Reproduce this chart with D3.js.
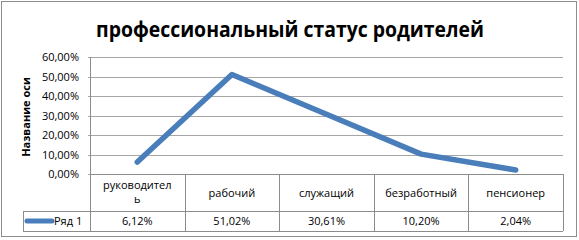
<!DOCTYPE html>
<html>
<head>
<meta charset="utf-8">
<script src="https://cdn.jsdelivr.net/npm/d3@7"></script>
<style>
  body { margin: 0; background: #fff; }
  text { font-family: "Open Sans", "Noto Sans", sans-serif; fill: #000; }
</style>
</head>
<body>
<svg id="chart" width="579" height="240"></svg>
<script>
// data
var categories = ["руководитель", "рабочий", "служащий", "безработный", "пенсионер"]
var values = [6.12, 51.02, 30.61, 10.20, 2.04]
var yTicks = [0, 10, 20, 30, 40, 50, 60]
var seriesName = "Ряд 1"
var title = "профессиональный статус родителей"
var axisTitle = "Название оси"

var svg = d3.select('#chart')
var width = +svg.attr('width')
var height = +svg.attr('height')
var margin = { left: 90, right: 16, top: 57, plotBottom: 174 }
var rowH = 37, valH = 20
var blue = '#4a7ebb', grid = '#a6a6a6', border = '#8c8c8c'

var ru = d3.formatLocale({ decimal: ',', thousands: ' ', grouping: [3], currency: ['', ''] })
var pct = ru.format('.2f')

// outer frame
svg.append('rect').attr('x', 1.5).attr('y', 1.5).attr('width', width - 4).attr('height', height - 5)
  .attr('fill', '#fff').attr('stroke', border).attr('stroke-width', 1)

svg.append('text').text(title)
  .attr('x', 290).attr('y', 37).attr('text-anchor', 'middle')
  .attr('font-size', 22).attr('font-weight', 'bold')
  .attr('textLength', 388).attr('lengthAdjust', 'spacingAndGlyphs')

var x = d3.scaleBand().domain(categories).range([margin.left, width - margin.right])
var y = d3.scaleLinear().domain([0, 60]).range([margin.plotBottom, margin.top])

// grid + y axis
var yAxis = d3.axisLeft(y).tickValues(yTicks).tickSize(-(width - margin.right - margin.left) - 2)
  .tickFormat(function (d) { return pct(d) + '%' })
var gy = svg.append('g').attr('transform', 'translate(' + (margin.left - 2) + ',0)').call(yAxis)
gy.select('.domain').remove()
gy.selectAll('.tick line').attr('stroke', grid).attr('shape-rendering', 'crispEdges')
gy.selectAll('.tick text').attr('font-size', 11).attr('x', -9).attr('dy', '0.32em')
  .attr('font-family', '"Open Sans", sans-serif').attr('fill', '#000')

svg.append('line').attr('x1', margin.left + 0.5).attr('x2', margin.left + 0.5)
  .attr('y1', margin.top).attr('y2', margin.plotBottom + rowH + valH)
  .attr('stroke', border).attr('shape-rendering', 'crispEdges')

svg.append('text').text(axisTitle)
  .attr('transform', 'translate(30,117) rotate(-90)').attr('text-anchor', 'middle')
  .attr('font-size', 11).attr('font-weight', 'bold')

// line
var line = d3.line().x(function (d, i) { return x(categories[i]) + x.bandwidth() / 2 }).y(function (d) { return y(d) })
svg.append('path').datum(values).attr('d', line)
  .attr('fill', 'none').attr('stroke', blue).attr('stroke-width', 5.5)
  .attr('stroke-linejoin', 'round').attr('stroke-linecap', 'round')

// data table
var tTop = margin.plotBottom, tMid = tTop + rowH, tBot = tMid + valH
var tb = svg.append('g').attr('stroke', border).attr('shape-rendering', 'crispEdges')
tb.append('line').attr('x1', margin.left).attr('x2', width - margin.right).attr('y1', tTop + 0.5).attr('y2', tTop + 0.5)
tb.append('line').attr('x1', 23).attr('x2', width - margin.right).attr('y1', tMid + 0.5).attr('y2', tMid + 0.5)
tb.append('line').attr('x1', 23).attr('x2', width - margin.right).attr('y1', tBot + 0.5).attr('y2', tBot + 0.5)
tb.append('line').attr('x1', 23.5).attr('x2', 23.5).attr('y1', tMid).attr('y2', tBot)
tb.selectAll('line.v').data(categories).enter().append('line').attr('class', 'v')
  .attr('x1', function (d) { return Math.round(x(d) + x.bandwidth()) + 0.5 })
  .attr('x2', function (d) { return Math.round(x(d) + x.bandwidth()) + 0.5 })
  .attr('y1', tTop).attr('y2', tBot)

var cats = svg.append('g').selectAll('text').data(categories).enter().append('text')
  .attr('text-anchor', 'middle').attr('font-size', 11)
  .attr('x', function (d) { return x(d) + x.bandwidth() / 2 })
  .attr('y', tTop + rowH / 2 + 4)
  .text(function (d) { return d })
// wrap labels that are too wide for the cell, letter by letter like the spreadsheet does
cats.each(function (d) {
  var t = d3.select(this)
  var maxW = x.bandwidth() - 20
  if (this.getComputedTextLength() > maxW) {
    var n = d.length
    while (n > 1) { t.text(d.slice(0, n)); if (this.getComputedTextLength() <= maxW) break; n-- }
    var cx = +t.attr('x')
    t.text(null)
    t.append('tspan').attr('x', cx).attr('y', tTop + 15).text(d.slice(0, n))
    t.append('tspan').attr('x', cx).attr('y', tTop + 29).text(d.slice(n))
  }
})

svg.append('g').selectAll('text').data(values).enter().append('text')
  .attr('text-anchor', 'middle').attr('font-size', 11)
  .attr('x', function (d, i) { return x(categories[i]) + x.bandwidth() / 2 })
  .attr('y', tMid + valH / 2 + 4)
  .text(function (d) { return pct(d) + '%' })

// legend key in table
svg.append('line').attr('x1', 27).attr('x2', 52).attr('y1', tMid + valH / 2).attr('y2', tMid + valH / 2)
  .attr('stroke', blue).attr('stroke-width', 5).attr('stroke-linecap', 'round')
svg.append('text').text(seriesName).attr('x', 54).attr('y', tMid + valH / 2 + 4).attr('font-size', 11)
</script>
</body>
</html>
